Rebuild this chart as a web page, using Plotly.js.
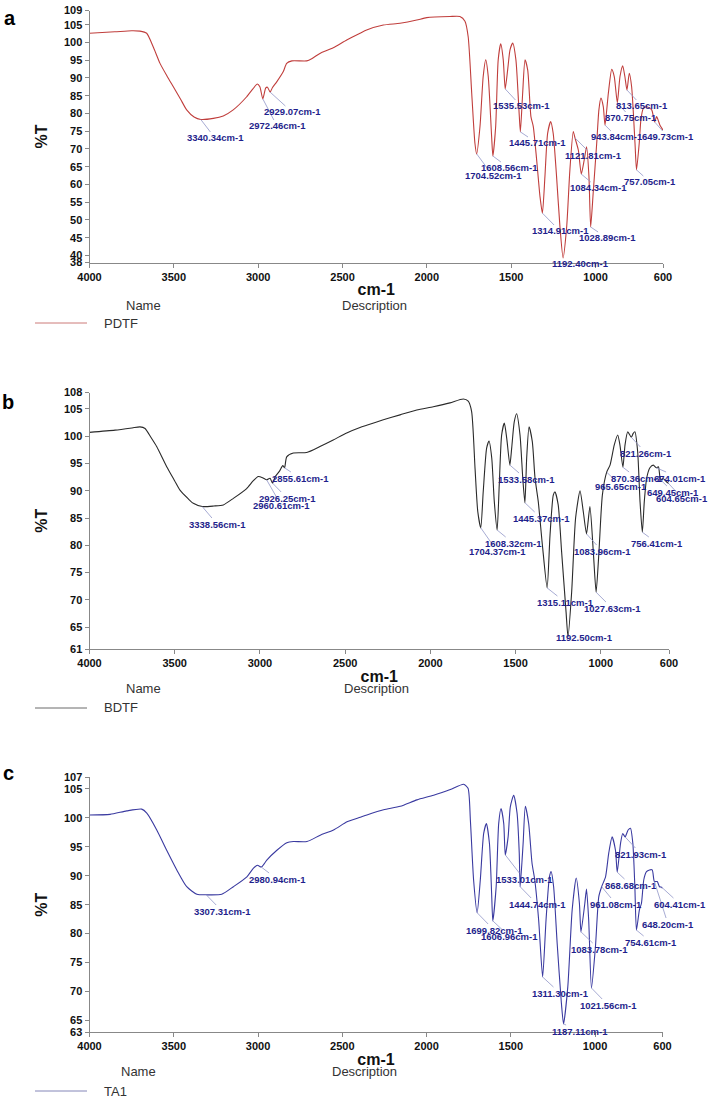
<!DOCTYPE html>
<html>
<head>
<meta charset="utf-8">
<script src="https://cdn.plot.ly/plotly-3.0.1.min.js"></script>
<style>html,body{margin:0;padding:0;background:#fff;}#chart{width:713px;height:1101px;}</style>
</head>
<body>
<div id="chart"></div>
<script>
// ---------------- DATA ----------------
const xTicks = [4000, 3500, 3000, 2500, 2000, 1500, 1000, 600];
const yTicksA = [38, 40, 45, 50, 55, 60, 65, 70, 75, 80, 85, 90, 95, 100, 105, 109];
const yTicksB = [61, 65, 70, 75, 80, 85, 90, 95, 100, 105, 108];
const yTicksC = [63, 65, 70, 75, 80, 85, 90, 95, 100, 105, 107];

const seriesNames = ["PDTF", "BDTF", "TA1"];
const panelLetters = ["a", "b", "c"];

// PDTF (panel a)
const pdtfWn = [4000,3850,3750,3701,3661,3620,3582,3540,3503,3460,3424,3380,3340.34,3266,3207,3148,3068,3030,3005,2990,2972.46,2955,2945,2929.07,2915,2890,2851,2831,2800,2712,2680,2634,2555,2475,2396,2357,2258,2159,2060,2001,1863,1804,1774,1755,1734,1715,1704.52,1685,1666,1651,1636,1616,1608.56,1592,1577,1562,1547,1535.53,1520,1507,1491,1472,1454,1445.71,1432,1418,1402,1383,1369,1349,1329,1314.91,1300,1284,1266,1251,1231,1211,1192.40,1171,1152,1132,1121.81,1102,1084.34,1067,1053,1039,1028.89,1014,993,980,968,954,943.84,924,904,889,870.75,855,839,826,813.65,800,786,766,757.05,741,731,717,697,667,649.73,638,618,600];
const pdtfT  = [102.6,103.0,103.3,103.2,102.6,98.5,94.1,90.5,87.5,84.0,81.0,79.0,78.3,78.6,79.3,81.0,84.7,87.0,88.3,87.5,84.1,87.2,87.4,86.0,87.3,88.9,91.8,94.1,94.8,94.8,95.5,96.9,98.5,100.7,102.6,103.5,104.9,105.4,106.3,107.0,107.3,107.3,106.0,101.6,85.7,71.6,68.6,76.3,90.4,95.1,90.4,73.5,68.0,76.3,95.1,99.6,95.1,86.9,92.7,97.9,99.8,95.1,81.0,74.8,85.7,95.1,92.2,79.1,76.3,66.9,56.5,51.9,62.2,74.4,77.7,74.4,62.2,48.1,39.3,48.1,64.1,74.9,73.1,69.7,62.9,66.9,70.6,62.2,48.0,57.5,71.6,81.0,84.3,81.9,76.7,85.7,92.4,90.4,83.0,90.4,93.4,90.4,86.6,91.3,87.5,71.6,64.1,71.6,78.2,81.4,81.9,81.0,77.6,79.1,76.7,75.3];
const pdtfPeaks = [3340.34,2972.46,2929.07,1704.52,1608.56,1535.53,1445.71,1314.91,1192.40,1121.81,1084.34,1028.89,943.84,870.75,813.65,757.05,649.73];
const pdtfPeakT = [78.3,84.1,86.0,68.6,68.0,86.9,74.8,51.9,39.3,73.1,62.9,48.0,76.7,83.0,86.6,64.1,77.6];

// BDTF (panel b)
const bdtfWn = [4000,3850,3750,3704,3674,3640,3606,3547,3500,3469,3420,3391,3338.56,3270,3215,3156,3078,3040,3010,2985,2960.61,2941,2926.25,2910,2885,2866,2855.61,2843,2804,2726,2648,2570,2491,2413,2374,2276,2178,2080,1983,1885,1807,1778,1758,1738,1722,1704.37,1690,1670,1656,1640,1625,1608.32,1596,1582,1566,1552,1533.58,1523,1508,1494,1474,1458,1445.37,1435,1421,1402,1386,1367,1343,1315.11,1298,1279,1269,1250,1230,1204,1192.50,1171,1148,1122,1103,1083.96,1064,1044,1027.63,1011,991,965.65,946,921,901,888,870.36,858,842,821.26,810,800,784,770,756.41,745,731,712,692,674.01,662,649.45,633,613,604.65,600];
const bdtfT  = [100.7,101.1,101.5,101.7,101.4,99.8,98.1,94.4,91.8,90.1,88.5,87.7,87.1,87.2,87.4,88.6,90.4,91.8,92.6,92.4,92.0,92.3,91.4,92.6,93.6,94.6,94.2,96.2,96.9,97.0,98.1,99.3,100.6,101.6,102.0,103.0,103.9,104.8,105.4,106.1,106.8,106.4,104.5,94.1,86.2,83.2,89.8,97.8,99.1,96.0,88.0,82.8,91.0,100.2,102.4,99.6,94.7,97.8,102.6,104.1,100.2,92.3,87.8,96.0,101.7,99.0,92.3,88.0,80.1,72.2,81.9,89.2,89.8,87.4,78.8,67.8,63.2,71.5,85.0,90.0,86.2,82.1,87.1,78.8,71.4,78.8,89.2,93.4,94.7,98.4,100.2,98.4,94.3,98.4,100.8,99.8,100.5,100.8,97.2,88.0,82.4,88.0,92.3,94.2,94.7,94.2,94.4,92.0,92.2,91.6,91.4,91.3];
const bdtfPeaks = [3338.56,2960.61,2926.25,2855.61,1704.37,1608.32,1533.58,1445.37,1315.11,1192.50,1083.96,1027.63,965.65,870.36,821.26,756.41,674.01,649.45,604.65];
const bdtfPeakT = [87.1,92.0,91.4,94.2,83.2,82.8,94.7,87.8,72.2,63.2,82.1,71.4,93.4,94.3,99.8,82.4,94.2,92.0,91.4];

// TA1 (panel c)
const ta1Wn = [4000,3878,3779,3690,3660,3601,3542,3482,3423,3363,3307.31,3215,3146,3066,3027,3003,2980.94,2960,2948,2888,2829,2790,2710,2631,2552,2472,2393,2354,2255,2156,2057,1958,1859,1780,1754,1740,1721,1699.82,1681,1661,1645,1627,1614,1606.96,1587,1572,1558,1542,1533.01,1516,1503,1483,1463,1450,1444.74,1427,1414,1394,1374,1358,1335,1311.30,1291,1271,1261,1246,1225,1200,1187.11,1162,1136,1112,1093,1083.78,1061,1051,1038,1021.56,998,978,961.08,938,919,899,879,868.68,849,836,821.93,804,790,776,764,754.61,737,725,711,695,677,661,648.20,631,618,604.41,600];
const ta1T  = [100.5,100.6,101.2,101.5,100.8,97.9,94.4,91.0,88.1,86.8,86.7,86.8,88.1,89.8,91.3,91.8,91.5,92.2,92.7,94.4,95.7,95.9,95.9,97.0,97.9,99.3,100.1,100.5,101.4,102.0,103.1,103.9,104.9,105.8,105.1,99.6,89.3,83.6,89.3,97.3,99.0,95.6,87.0,82.2,88.1,99.0,101.6,99.0,93.6,96.7,101.9,103.9,100.8,93.9,88.1,95.6,102.0,99.0,92.1,89.3,82.4,72.5,82.4,89.8,90.7,88.1,78.3,68.0,64.4,70.8,84.1,89.6,85.2,80.3,85.2,87.7,82.4,70.6,77.7,86.4,88.1,89.8,93.9,96.7,94.4,90.6,95.6,97.3,96.7,97.9,98.2,95.6,88.1,80.6,84.1,85.2,89.3,90.7,91.0,91.0,89.0,89.0,88.1,88.0,87.8];
const ta1Peaks = [3307.31,2980.94,1699.82,1606.96,1533.01,1444.74,1311.30,1187.11,1083.78,1021.56,961.08,868.68,821.93,754.61,648.20,604.41];
const ta1PeakT = [86.7,91.5,83.6,82.2,93.6,88.1,72.5,64.4,80.3,70.6,88.1,90.6,96.7,80.6,89.0,88.0];

// ---------------- LAYOUT CONSTANTS (pixel geometry of the page) ----------------
const W = 713, H = 1101;
const FONT = 'Liberation Sans, Arial, Helvetica, sans-serif';
const LABEL_COLOR = '#1f1f8c';
const LEADER_COLOR = '#9195c8';

const panels = [
  {x0: 89.5, x1: 663,   y0: 10.5,  y1: 262.5, ymin: 38, ymax: 109, yticks: yTicksA,
   wn: pdtfWn, t: pdtfT, peaks: pdtfPeaks, peakT: pdtfPeakT, color: '#c03e3c', legColor: '#cc7a78',
   lbl: [[215,138],[277,126],[292,112],[493,176],[509,168],[521,106],[537,143],[560,231],[580,263],[593,156],[598,188],[607,238],[617,137],[631,118],[642,106],[650,182],[668,137]],
   letter: [10,18], name: [143,305], desc: [375,305], leg: 323},
  {x0: 89.5, x1: 669,   y0: 392.5, y1: 649,   ymin: 61, ymax: 108, yticks: yTicksB,
   wn: bdtfWn, t: bdtfT, peaks: bdtfPeaks, peakT: bdtfPeakT, color: '#2a2a2a', legColor: '#6a6a6a',
   lbl: [[217,524],[281,505],[287,498],[300,478],[497,551],[513,543],[526,479],[541,518],[565,602],[584,637],[602,551],[612,608],[621,486],[637,478],[646,453],[657,543],[680,478],[673,492],[682,498]],
   letter: [8,402], name: [143,688], desc: [376,688], leg: 708},
  {x0: 89.5, x1: 662.5, y0: 777.3, y1: 1032,  ymin: 63, ymax: 107, yticks: yTicksC,
   wn: ta1Wn, t: ta1T, peaks: ta1Peaks, peakT: ta1PeakT, color: '#3a3aa0', legColor: '#8486b8',
   lbl: [[222,911],[277,879],[494,930],[509,936],[524,879],[537,904],[560,993],[580,1031],[599,949],[608,1005],[616,904],[631,885],[641,854],[651,942],[668,924],[680,904]],
   letter: [8,773], name: [138,1071], desc: [364,1071], leg: 1091}
];

const px = v => v / W;
const py = v => 1 - v / H;

const traces = [];
const annotations = [];
const shapes = [];
const layout = {
  width: W, height: H,
  margin: {l: 0, r: 0, t: 0, b: 0},
  paper_bgcolor: '#fff', plot_bgcolor: '#fff',
  showlegend: false,
  font: {family: FONT, color: '#111'},
  annotations: annotations, shapes: shapes
};

panels.forEach((p, i) => {
  const sfx = i === 0 ? '' : String(i + 1);
  const xa = 'x' + sfx, ya = 'y' + sfx;

  traces.push({
    x: p.wn, y: p.t, type: 'scatter', mode: 'lines',
    xaxis: xa, yaxis: ya, name: seriesNames[i],
    line: {color: p.color, width: 1.1, shape: 'spline', smoothing: 0.6},
    hoverinfo: 'skip'
  });

  layout['xaxis' + sfx] = {
    domain: [px(p.x0), px(p.x1)], anchor: ya,
    range: [4000, 600], tickmode: 'array', tickvals: xTicks, ticktext: xTicks.map(String),
    ticks: 'outside', ticklen: 4, tickcolor: '#888', tickwidth: 1,
    showline: true, linecolor: '#888', linewidth: 1,
    showgrid: false, zeroline: false, automargin: false,
    tickfont: {family: FONT, size: 11, color: '#111', weight: 'bold'},
    title: {text: 'cm-1', font: {family: FONT, size: 16, color: '#111', weight: 'bold'}, standoff: 2}
  };
  layout['yaxis' + sfx] = {
    domain: [py(p.y1), py(p.y0)], anchor: xa,
    range: [p.ymin, p.ymax], tickmode: 'array', tickvals: p.yticks, ticktext: p.yticks.map(String),
    ticks: 'outside', ticklen: 4, tickcolor: '#888', tickwidth: 1,
    showline: true, linecolor: '#888', linewidth: 1,
    showgrid: false, zeroline: false, automargin: false,
    tickfont: {family: FONT, size: 11, color: '#111', weight: 'bold'},
    title: {text: '%T', font: {family: FONT, size: 16, color: '#111', weight: 'bold'}, standoff: 12}
  };

  // peak labels with leader lines
  p.peaks.forEach((wn, k) => {
    const [lx, ly] = p.lbl[k];
    const ax = 4000 - (lx - p.x0) / (p.x1 - p.x0) * 3400;
    const ay = p.ymax - (ly - p.y0) / (p.y1 - p.y0) * (p.ymax - p.ymin);
    annotations.push({
      x: wn, y: p.peakT[k], xref: xa, yref: ya,
      ax: ax, ay: ay, axref: xa, ayref: ya,
      text: wn.toFixed(2) + 'cm-1',
      showarrow: true, arrowhead: 0, arrowwidth: 0.8, arrowcolor: LEADER_COLOR,
      standoff: 0, startstandoff: 0, borderpad: 0,
      font: {family: FONT, size: 9.5, color: LABEL_COLOR, weight: 'bold'}
    });
  });

  // panel letter
  annotations.push({text: panelLetters[i], xref: 'paper', yref: 'paper',
    x: px(p.letter[0]), y: py(p.letter[1]), xanchor: 'center', yanchor: 'middle', showarrow: false,
    font: {family: FONT, size: 20, color: '#000', weight: 'bold'}});
  // Name / Description header
  annotations.push({text: 'Name', xref: 'paper', yref: 'paper',
    x: px(p.name[0]), y: py(p.name[1]), xanchor: 'center', yanchor: 'middle', showarrow: false,
    font: {family: FONT, size: 13, color: '#333'}});
  annotations.push({text: 'Description', xref: 'paper', yref: 'paper',
    x: px(p.desc[0]), y: py(p.desc[1]), xanchor: 'center', yanchor: 'middle', showarrow: false,
    font: {family: FONT, size: 13, color: '#333'}});
  // legend row
  shapes.push({type: 'line', xref: 'paper', yref: 'paper',
    x0: px(35), x1: px(87), y0: py(p.leg), y1: py(p.leg),
    line: {color: p.legColor, width: 1}});
  annotations.push({text: seriesNames[i], xref: 'paper', yref: 'paper',
    x: px(102), y: py(p.leg), xanchor: 'left', yanchor: 'middle', showarrow: false,
    font: {family: FONT, size: 13, color: '#333'}});
});

Plotly.newPlot('chart', traces, layout, {displayModeBar: false, staticPlot: true});
</script>
</body>
</html>
